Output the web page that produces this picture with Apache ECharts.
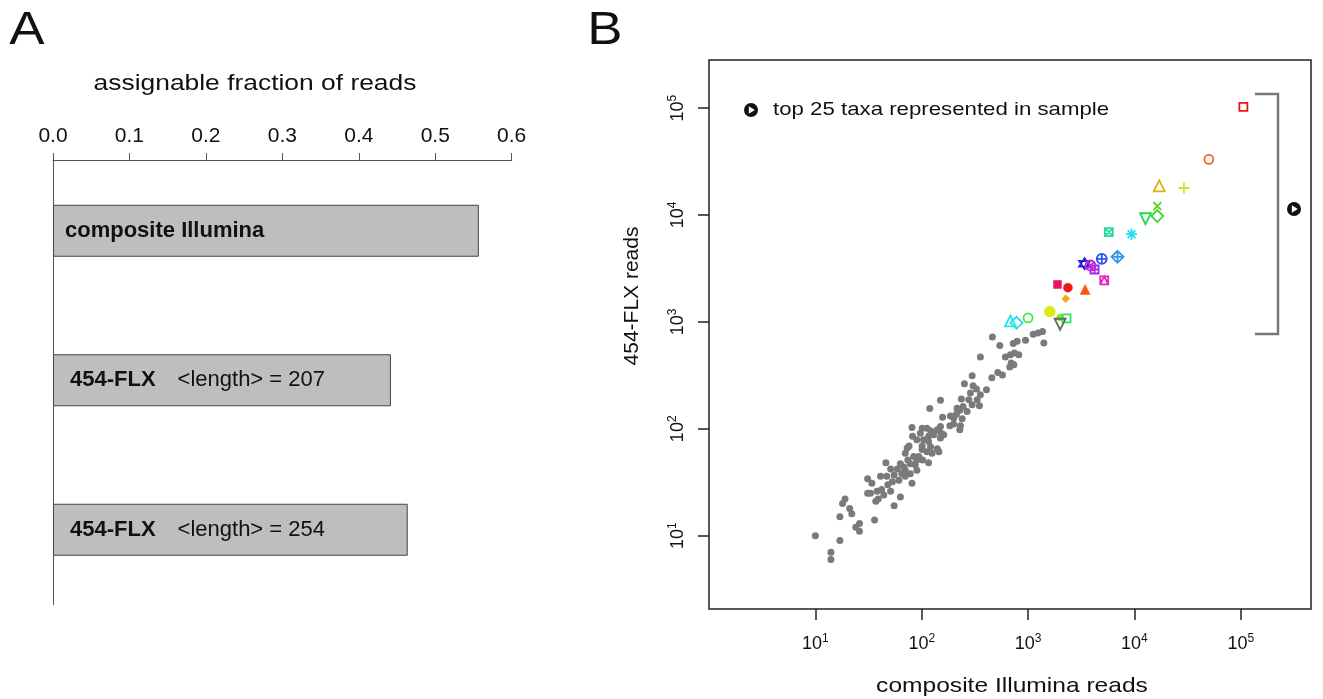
<!DOCTYPE html>
<html>
<head>
<meta charset="utf-8">
<script src="https://cdn.jsdelivr.net/npm/echarts@6/dist/echarts.min.js"></script>
<style>
html, body { margin: 0; padding: 0; background: #fff; }
#main { width: 1323px; height: 699px; }
</style>
</head>
<body>
<div id="main"></div>
<script>
// ---- panel A data ----
var platforms = ['composite Illumina', '454-FLX', '454-FLX'];
var readLengths = [null, 207, 254];
var assignableFraction = [0.557, 0.442, 0.464];

// ---- panel B data (reads per taxon) ----
var decadeTicks = [10, 100, 1000, 10000, 100000];

// top taxa, in plotting-symbol order
var taxaIllumina = [105700, 50100, 17100, 29200, 16400, 16400, 12700, 5740, 9400, 6930, 4930, 3400, 4220,
  3860, 5200, 1890, 2370, 3440, 2260, 1600, 2000, 1000, 2300, 778, 682, 2000];
var taxa454 = [102600, 33200, 18700, 17900, 12100, 9770, 9230, 6920, 6620, 4060, 3890, 3500, 3090,
  3370, 2450, 2240, 2090, 2010, 1650, 1250, 1100, 1090, 1080, 980, 1020, 950];

// remaining taxa
var otherIllumina = [462, 542, 725, 789, 946, 1117, 1236, 1365, 1406, 356, 612, 682, 745, 818, 693, 735,
  456, 519, 574, 298, 252, 304, 327, 287, 406, 356, 332, 349, 236, 245, 267, 212, 186, 200, 240, 150,
  119, 157, 200, 184, 231, 228, 81, 101, 112, 121, 140, 152, 161, 130, 116, 104, 82, 90, 76, 101, 121,
  140, 112, 125, 145, 70, 73, 94, 102, 90, 78, 68, 63, 46, 51, 59, 65, 70, 55, 47, 53, 61, 90, 81, 63,
  31, 34, 31, 33, 38, 42, 44, 39, 51, 37, 55, 19, 18, 21, 22, 17, 26, 24, 26, 36, 10, 17, 14, 14,
  277, 150, 97, 150, 116, 101, 84, 116, 87, 70, 78, 41, 228, 673, 298, 215, 48, 74];
var other454 = [723, 600, 627, 658, 673, 766, 789, 811, 635, 470, 470, 494, 512, 494, 412, 398,
  301, 337, 318, 314, 264, 253, 235, 216, 232, 208, 187, 164, 190, 162, 145, 137, 132, 126, 124, 185,
  155, 128, 111, 107, 107, 98, 103, 101, 101, 96, 98, 91, 88, 88, 85, 79, 85, 79, 69, 69, 68,
  65, 61, 59, 61, 59, 66, 55, 51, 51, 47, 44, 47, 48, 42, 42, 38, 36, 37, 36, 32, 33, 41, 31, 23,
  34, 31, 25, 25, 26, 27, 24, 22, 26, 21, 19, 22, 20, 18, 16, 15, 13, 12, 11, 14, 10, 9, 7, 6,
  187, 105, 91, 82, 76, 64, 55, 48, 46, 41, 38, 36, 149, 378, 168, 156, 30, 51];

// styles for the top-taxa symbols
var taxaColors = ['#e8141c', '#ec6a1e', '#e2ae08', '#c8ec1c', '#5ed41c', '#36d836', '#28d84a', '#26d8a4',
  '#22def6', '#3296ea', '#2456ea', '#2a22d8', '#a422ea', '#c424de', '#ea22c4', '#ec1468',
  '#ec1616', '#fa5416', '#fca614', '#dcec14', '#86ea14', '#3cea3c', '#26e65a', '#22dcea', '#22e8e8', '#666666'];
var taxaShapes = ['sq', 'circ', 'tri', 'plus', 'x', 'diam', 'dtri', 'boxx', 'ast', 'diamplus', 'circplus',
  'star', 'boxplus', 'circx', 'boxtri', 'fsq', 'fcirc', 'ftri', 'fdiam', 'bigcirc', 'smallcirc',
  'circ', 'sq', 'diam', 'tri', 'dtri'];

var shapeDefs = {
  sq:        { symbol: 'rect', size: 8 },
  circ:      { symbol: 'circle', size: 9 },
  tri:       { symbol: 'triangle', size: 11 },
  dtri:      { symbol: 'triangle', size: 11, rotate: 180 },
  diam:      { symbol: 'diamond', size: 12 },
  plus:      { symbol: 'path://M0,5L10,5M5,0L5,10', size: 11 },
  x:         { symbol: 'path://M0,0L10,10M10,0L0,10', size: 8 },
  boxx:      { symbol: 'path://M0,0L10,0L10,10L0,10ZM0,0L10,10M10,0L0,10', size: 8 },
  ast:       { symbol: 'path://M0,5L10,5M5,0L5,10M1.5,1.5L8.5,8.5M8.5,1.5L1.5,8.5', size: 11 },
  diamplus:  { symbol: 'path://M5,0L10,5L5,10L0,5ZM0,5L10,5M5,0L5,10', size: 12 },
  circplus:  { symbol: 'path://M10,5A5,5,0,1,1,0,5A5,5,0,1,1,10,5ZM0,5L10,5M5,0L5,10', size: 10 },
  star:      { symbol: 'path://M5,0L9.33,7.5L0.67,7.5ZM5,10L0.67,2.5L9.33,2.5Z', size: 11 },
  boxplus:   { symbol: 'path://M0,0L10,0L10,10L0,10ZM0,5L10,5M5,0L5,10', size: 8 },
  circx:     { symbol: 'path://M10,5A5,5,0,1,1,0,5A5,5,0,1,1,10,5ZM1.46,1.46L8.54,8.54M8.54,1.46L1.46,8.54', size: 10 },
  boxtri:    { symbol: 'path://M0,0L10,0L10,10L0,10ZM0,10L5,0L10,10', size: 8 },
  fsq:       { symbol: 'rect', size: 8, filled: true },
  fcirc:     { symbol: 'circle', size: 9, filled: true },
  ftri:      { symbol: 'triangle', size: 10, filled: true },
  fdiam:     { symbol: 'diamond', size: 8, filled: true },
  bigcirc:   { symbol: 'circle', size: 11, filled: true },
  smallcirc: { symbol: 'circle', size: 7, filled: true }
};

var fontFam = '"Liberation Sans", Arial, Helvetica, sans-serif';
var ink = '#111';

var taxaData = taxaIllumina.map(function (x, i) {
  var d = shapeDefs[taxaShapes[i]];
  var c = taxaColors[i];
  return {
    value: [x, taxa454[i]],
    symbol: d.symbol,
    symbolSize: d.size,
    symbolRotate: d.rotate || 0,
    itemStyle: d.filled
      ? { color: c, borderColor: c, borderWidth: 0.5, opacity: 1 }
      : { color: 'rgba(0,0,0,0)', borderColor: c, borderWidth: 1.8, opacity: 1 }
  };
});

var otherData = otherIllumina.map(function (x, i) { return [x, other454[i]]; });

var barData = assignableFraction.map(function (v, i) {
  return { value: v, label: { distance: i === 0 ? 12 : 17 } };
});

function decadeLabel(v) {
  return '{b|10}{s|' + Math.round(Math.log10(v)) + '}';
}
var decadeRich = {
  b: { fontSize: 18, color: ink, fontFamily: fontFam },
  s: { fontSize: 12, color: ink, fontFamily: fontFam, padding: [0, 0, 11, 0] }
};

// little "top taxa" marker: black disc with a white arrowhead
function marker(cx, cy) {
  return {
    type: 'group', x: cx, y: cy,
    children: [
      { type: 'circle', shape: { cx: 0, cy: 0, r: 7 }, style: { fill: ink } },
      { type: 'polygon', shape: { points: [[-2.2, -3.8], [3.8, 0], [-2.2, 3.8]] }, style: { fill: '#fff' } }
    ]
  };
}

var chart = echarts.init(document.getElementById('main'), null, { renderer: 'canvas' });

var option = {
  animation: false,
  backgroundColor: '#fff',
  grid: [
    { left: 53, top: 156, width: 458.7, height: 448.5, outerBoundsMode: 'none' },
    { left: 709, top: 60, right: 12, bottom: 90, outerBoundsMode: 'none',
      show: true, borderColor: '#222', borderWidth: 1.5, backgroundColor: 'transparent' }
  ],
  xAxis: [
    {
      gridIndex: 0, type: 'value', position: 'top', offset: -4,
      min: 0, max: 0.6, interval: 0.1,
      axisLine: { show: true, lineStyle: { color: '#555', width: 1 } },
      axisTick: { show: true, length: 7, lineStyle: { color: '#555', width: 1 } },
      axisLabel: {
        margin: 13, fontSize: 21, color: ink, fontFamily: fontFam,
        formatter: function (v) { return v.toFixed(1); }
      },
      splitLine: { show: false }
    },
    {
      gridIndex: 1, type: 'log', logBase: 10,
      min: 1, max: 457000,
      axisLine: { show: false },
      axisTick: { show: true, length: 11, customValues: decadeTicks, lineStyle: { color: '#222', width: 1.5 } },
      axisLabel: { margin: 24, customValues: decadeTicks, formatter: decadeLabel, rich: decadeRich },
      splitLine: { show: false },
      minorTick: { show: false }
    }
  ],
  yAxis: [
    {
      gridIndex: 0, type: 'category', inverse: true, data: platforms,
      axisLine: { show: true, lineStyle: { color: '#555', width: 1 } },
      axisTick: { show: false },
      axisLabel: { show: false },
      splitLine: { show: false }
    },
    {
      gridIndex: 1, type: 'log', logBase: 10,
      min: 2.06, max: 282000,
      axisLine: { show: false },
      axisTick: { show: true, length: 11, customValues: decadeTicks, lineStyle: { color: '#222', width: 1.5 } },
      axisLabel: { margin: 19, rotate: 90, customValues: decadeTicks, formatter: decadeLabel, rich: decadeRich },
      splitLine: { show: false },
      minorTick: { show: false }
    }
  ],
  series: [
    {
      type: 'bar', xAxisIndex: 0, yAxisIndex: 0,
      data: barData,
      barWidth: 52,
      itemStyle: { color: '#bebebe', borderColor: '#444', borderWidth: 1 },
      label: {
        show: true, position: 'insideLeft',
        formatter: function (p) {
          var name = '{b|' + platforms[p.dataIndex] + '}';
          var len = readLengths[p.dataIndex];
          return len === null ? name : name + '{n|<length> = ' + len + '}';
        },
        rich: {
          b: { fontSize: 22, fontWeight: 'bold', color: ink, fontFamily: fontFam },
          n: { fontSize: 22, color: ink, fontFamily: fontFam, padding: [0, 0, 0, 22] }
        }
      }
    },
    {
      type: 'scatter', xAxisIndex: 1, yAxisIndex: 1,
      data: otherData,
      symbol: 'circle', symbolSize: 7,
      itemStyle: { color: '#7a7a7a', opacity: 1 },
      z: 2
    },
    {
      type: 'scatter', xAxisIndex: 1, yAxisIndex: 1,
      data: taxaData,
      z: 3
    }
  ],
  graphic: [
    { type: 'text', x: 27, y: 31, scaleX: 1.15,
      style: { text: 'A', font: '46px ' + fontFam, fill: ink, align: 'center', verticalAlign: 'middle' } },
    { type: 'text', x: 605, y: 31, scaleX: 1.15,
      style: { text: 'B', font: '46px ' + fontFam, fill: ink, align: 'center', verticalAlign: 'middle' } },
    { type: 'text', x: 255, y: 84, scaleX: 1.2,
      style: { text: 'assignable fraction of reads', font: '22px ' + fontFam, fill: ink, align: 'center', verticalAlign: 'middle' } },
    { type: 'text', x: 632, y: 296, rotation: Math.PI / 2,
      style: { text: '454-FLX reads', font: '21px ' + fontFam, fill: ink, align: 'center', verticalAlign: 'middle' } },
    { type: 'text', x: 1012, y: 686, scaleX: 1.17,
      style: { text: 'composite Illumina reads', font: '21px ' + fontFam, fill: ink, align: 'center', verticalAlign: 'middle' } },
    marker(751, 110),
    { type: 'text', x: 773, y: 110, scaleX: 1.17,
      style: { text: 'top 25 taxa represented in sample', font: '19px ' + fontFam, fill: ink, align: 'left', verticalAlign: 'middle' } },
    { type: 'polyline', shape: { points: [[1255, 94], [1278, 94], [1278, 334], [1255, 334]] },
      style: { stroke: '#777', lineWidth: 2.5, fill: null } },
    marker(1294, 209)
  ]
};

chart.setOption(option);
</script>
</body>
</html>
